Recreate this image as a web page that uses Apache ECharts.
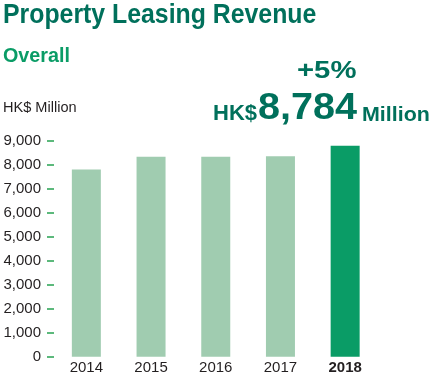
<!DOCTYPE html>
<html>
<head>
<meta charset="utf-8">
<script src="https://cdn.jsdelivr.net/npm/echarts@6/dist/echarts.min.js"></script>
<style>
html,body{margin:0;padding:0;background:#fff;}
#c{width:432px;height:380px;}
</style>
</head>
<body>
<div id="c"></div>
<script>
var years = ['2014', '2015', '2016', '2017', '2018'];
var revenue = [7800, 8330, 8330, 8350, 8784];
var yTickLabels = ['0', '1,000', '2,000', '3,000', '4,000', '5,000', '6,000', '7,000', '8,000', '9,000'];
var highlightYear = '2018';
var titleText = 'Property Leasing Revenue';
var subtitleText = 'Overall';
var unitText = 'HK$ Million';
var growthText = '+5%';
var totalPrefix = 'HK$';
var totalValue = '8,784';
var totalSuffix = 'Million';

var DARK = '#00705b';
var GREEN = '#0a9c66';
var LIGHT = '#a0ccb0';
var TEXT = '#231f20';
var FONT = '"Liberation Sans", Arial, sans-serif';

var chart = echarts.init(document.getElementById('c'));

function txt(x, y, s, size, color, weight, sx) {
  return {
    type: 'text', x: x, y: y, scaleX: sx || 1,
    style: {
      text: s, x: 0, y: 0, fill: color, fontSize: size,
      fontWeight: weight || 'normal', fontFamily: FONT,
      verticalAlign: 'top', align: 'left'
    }
  };
}

chart.setOption({
  animation: false,
  grid: { left: 54, right: 54.5, top: 140.67, bottom: 23.33 },
  graphic: [
    txt(3, 1, titleText, 28, DARK, 'bold', 0.887),
    txt(3, 46, subtitleText, 21, GREEN, 'bold', 0.94),
    txt(3, 101.5, unitText, 14, TEXT, 'normal', 1.04),
    txt(297, 59, growthText, 24, DARK, 'bold', 1.22),
    txt(213, 103, totalPrefix, 22, DARK, 'bold', 1.0),
    txt(258, 91.5, totalValue, 36, DARK, 'bold', 1.1),
    txt(362, 105, totalSuffix, 21, DARK, 'bold', 1.02)
  ],
  xAxis: {
    type: 'category',
    data: years,
    axisLine: { show: false },
    axisTick: { show: false },
    axisLabel: {
      interval: 0,
      hideOverlap: false,
      margin: 4,
      fontSize: 15,
      color: TEXT,
      fontFamily: FONT,
      formatter: function (v) { return v === highlightYear ? '{b|' + v + '}' : v; },
      rich: { b: { fontSize: 15, fontWeight: 'bold', color: TEXT, fontFamily: FONT } }
    }
  },
  yAxis: {
    type: 'value',
    min: 0, max: 9000, interval: 1000,
    axisLine: { show: false },
    splitLine: { show: false },
    axisTick: { show: true, length: 7, lineStyle: { color: '#5cb97c', width: 2 } },
    axisLabel: {
      margin: 13,
      fontSize: 15,
      color: TEXT,
      fontFamily: FONT,
      formatter: function (v) { return yTickLabels[Math.round(v / 1000)]; }
    }
  },
  series: [{
    type: 'bar',
    barWidth: 29,
    data: revenue.map(function (v, i) {
      return { value: v, itemStyle: { color: years[i] === highlightYear ? GREEN : LIGHT } };
    })
  }]
});
</script>
</body>
</html>
